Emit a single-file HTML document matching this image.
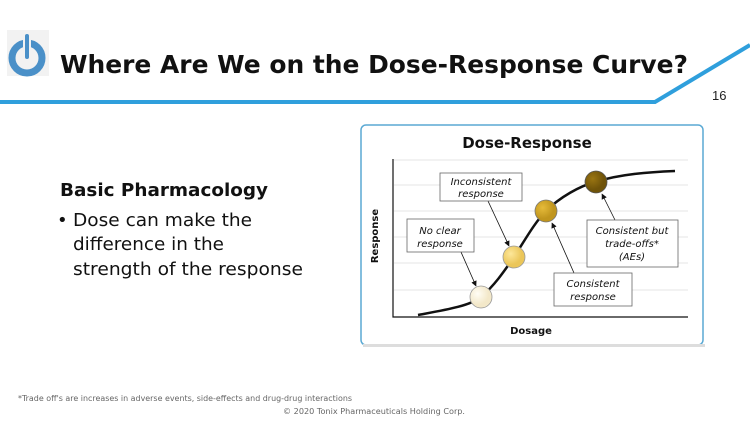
<!DOCTYPE html>
<html><head><meta charset="utf-8"><style>
html,body{margin:0;padding:0;background:#fff;}
svg{display:block;font-family:"DejaVu Sans","Liberation Sans",sans-serif;}
</style></head><body>
<svg width="750" height="421" viewBox="0 0 750 421" xmlns="http://www.w3.org/2000/svg">
<defs>
<marker id="ar" viewBox="0 0 10 10" refX="9" refY="5" markerWidth="7" markerHeight="7" orient="auto"><path d="M0,0 L10,5 L0,10 z" fill="#111"/></marker>
<radialGradient id="g1" cx="35%" cy="35%"><stop offset="0" stop-color="#fffdf5"/><stop offset="1" stop-color="#f3e8c9"/></radialGradient>
<radialGradient id="g2" cx="35%" cy="35%"><stop offset="0" stop-color="#fde79a"/><stop offset="1" stop-color="#ebc659"/></radialGradient>
<radialGradient id="g3" cx="35%" cy="35%"><stop offset="0" stop-color="#e6bb3a"/><stop offset="1" stop-color="#c0951d"/></radialGradient>
<radialGradient id="g4" cx="35%" cy="35%"><stop offset="0" stop-color="#9a7512"/><stop offset="1" stop-color="#6f5309"/></radialGradient>
</defs>
<rect x="7" y="30" width="42" height="46" fill="#f2f2f2"/>
<circle cx="27" cy="58" r="15" fill="none" stroke="#4a90c8" stroke-width="7"/>
<rect x="24" y="33" width="6" height="27" rx="3" fill="#4a90c8" stroke="#f2f2f2" stroke-width="2"/>
<text x="60" y="73" font-size="25" font-weight="bold" fill="#111" textLength="628" lengthAdjust="spacingAndGlyphs">Where Are We on the Dose-Response Curve?</text>
<polyline points="0,102 655,102 750,45" fill="none" stroke="#2f9fdc" stroke-width="4"/>
<text x="712" y="100" font-size="13" fill="#222" font-family="Liberation Sans, sans-serif">16</text>
<text x="60" y="196" font-size="18" font-weight="bold" fill="#111" textLength="208" lengthAdjust="spacingAndGlyphs">Basic Pharmacology</text>
<text x="57" y="226" font-size="18" fill="#111">•</text>
<text x="73" y="226" font-size="18" fill="#111" textLength="179" lengthAdjust="spacingAndGlyphs">Dose can make the</text>
<text x="73" y="250" font-size="18" fill="#111" textLength="151" lengthAdjust="spacingAndGlyphs">difference in the</text>
<text x="73" y="275" font-size="18" fill="#111" textLength="230" lengthAdjust="spacingAndGlyphs">strength of the response</text>
<rect x="361" y="125" width="342" height="220" rx="5" fill="#fff" stroke="#5aa9d4" stroke-width="1.5"/>
<rect x="363" y="344" width="342" height="3" fill="#ddd"/>
<text x="527" y="148" font-size="15" font-weight="bold" text-anchor="middle" fill="#111">Dose-Response</text>
<g stroke="#e6e6e6" stroke-width="1">
<line x1="394" y1="160" x2="688" y2="160"/><line x1="394" y1="185" x2="688" y2="185"/>
<line x1="394" y1="211" x2="688" y2="211"/><line x1="394" y1="237" x2="688" y2="237"/>
<line x1="394" y1="263" x2="688" y2="263"/><line x1="394" y1="290" x2="688" y2="290"/>
</g>
<polyline points="393,159 393,317 688,317" fill="none" stroke="#111" stroke-width="1.2"/>
<text transform="translate(378,236) rotate(-90)" font-size="10" font-weight="bold" text-anchor="middle" fill="#111">Response</text>
<text x="531" y="334" font-size="10" font-weight="bold" text-anchor="middle" fill="#111">Dosage</text>
<path d="M418,315 C445,310 470,306 481,297 C495,285 505,270 514,257 C525,240 535,222 546,211 C560,197 580,186 595,182 C620,174 650,172 675,171" fill="none" stroke="#111" stroke-width="2.5"/>
<circle cx="481" cy="297" r="11" fill="url(#g1)" stroke="#999" stroke-width="0.8"/>
<circle cx="514" cy="257" r="11" fill="url(#g2)" stroke="#999" stroke-width="0.8"/>
<circle cx="546" cy="211" r="11" fill="url(#g3)" stroke="#777" stroke-width="0.8"/>
<circle cx="596" cy="182" r="11" fill="url(#g4)" stroke="#555" stroke-width="0.8"/>
<g stroke="#111" stroke-width="0.8" marker-end="url(#ar)">
<line x1="488" y1="201" x2="509" y2="246"/>
<line x1="461" y1="252" x2="476" y2="286"/>
<line x1="574" y1="273" x2="552" y2="223"/>
<line x1="615" y1="220" x2="602" y2="194"/>
</g>
<g fill="#fff" stroke="#666" stroke-width="0.8">
<rect x="440" y="173" width="82" height="28"/>
<rect x="407" y="219" width="67" height="33"/>
<rect x="587" y="220" width="91" height="47"/>
<rect x="554" y="273" width="78" height="33"/>
</g>
<g font-size="10" font-style="italic" fill="#111" text-anchor="middle">
<text x="481" y="185">Inconsistent</text><text x="481" y="197">response</text>
<text x="440" y="234">No clear</text><text x="440" y="247">response</text>
<text x="632" y="234">Consistent but</text><text x="632" y="247">trade-offs*</text><text x="632" y="260">(AEs)</text>
<text x="593" y="287">Consistent</text><text x="593" y="300">response</text>
</g>
<text x="18" y="401" font-size="8" fill="#666" textLength="334" lengthAdjust="spacingAndGlyphs">*Trade off's are increases in adverse events, side-effects and drug-drug interactions</text>
<text x="283" y="414" font-size="8" fill="#666" textLength="182" lengthAdjust="spacingAndGlyphs">© 2020 Tonix Pharmaceuticals Holding Corp.</text>
</svg>
</body></html>
